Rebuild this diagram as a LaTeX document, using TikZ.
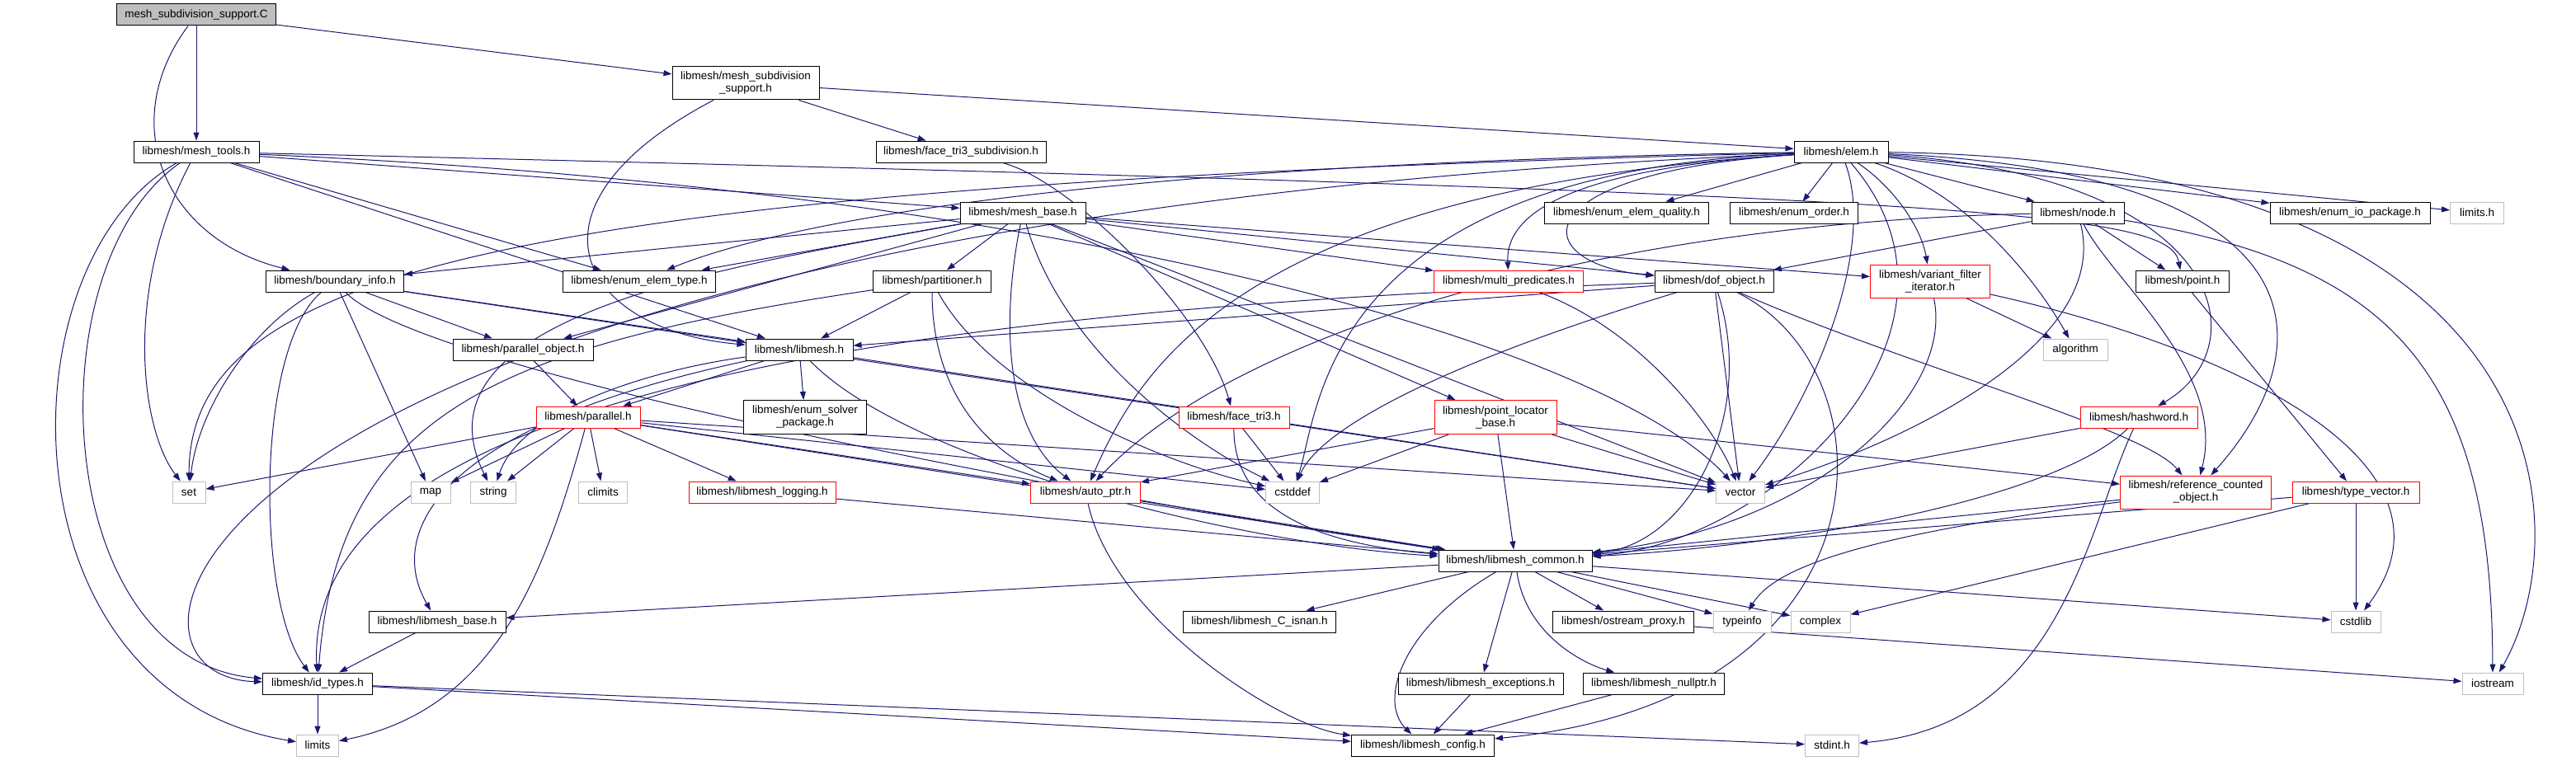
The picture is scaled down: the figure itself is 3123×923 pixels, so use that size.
\documentclass[tikz,border=0pt]{standalone}
\usepackage{fontspec}
\setmainfont{Liberation Sans}
\usetikzlibrary{arrows.meta}
\definecolor{edgeblue}{RGB}{25,25,112}
\definecolor{sysgray}{RGB}{191,191,191}
\newcommand{\fsz}{\fontsize{13.5pt}{15pt}\selectfont}
\pgfdeclarelayer{bg}
\pgfsetlayers{bg,main}

\begin{document}
\begin{tikzpicture}[x=1pt, y=-1pt,
  file/.style={draw=black, fill=white, line width=1pt, minimum height=26pt, inner sep=1pt, align=center, font=\fsz},
  sysfile/.style={file, draw=sysgray},
  trunc/.style={file, draw=red},
  edge/.style={edgeblue, line width=1pt, -{Triangle[length=10pt, width=7pt]}}]
  \useasboundingbox (0,0) rectangle (3123,923);
  \node[file, fill=sysgray, minimum width=193pt] (msc) at (238,18) {mesh\_subdivision\_support.C};
  \node[file, minimum width=178pt, minimum height=40pt] (msh) at (904,101) {libmesh/mesh\_subdivision\\\_support.h};
  \node[file, minimum width=152pt] (tools) at (238,184) {libmesh/mesh\_tools.h};
  \node[file, minimum width=206pt] (ftsub) at (1165,184) {libmesh/face\_tri3\_subdivision.h};
  \node[file, minimum width=114pt] (elem) at (2232,184) {libmesh/elem.h};
  \node[file, minimum width=152pt] (mbase) at (1240,258) {libmesh/mesh\_base.h};
  \node[file, minimum width=199pt] (equal) at (1972,258) {libmesh/enum\_elem\_quality.h};
  \node[file, minimum width=155pt] (eorder) at (2175,258) {libmesh/enum\_order.h};
  \node[file, minimum width=112pt] (nodeh) at (2519,258) {libmesh/node.h};
  \node[file, minimum width=194pt] (eio) at (2849,258) {libmesh/enum\_io\_package.h};
  \node[sysfile, minimum width=65pt] (limh) at (3003,258) {limits.h};
  \node[file, minimum width=167pt] (binfo) at (406,341) {libmesh/boundary\_info.h};
  \node[file, minimum width=185pt] (etype) at (775,341) {libmesh/enum\_elem\_type.h};
  \node[file, minimum width=143pt] (part) at (1130,341) {libmesh/partitioner.h};
  \node[trunc, minimum width=181pt] (mpred) at (1829,341) {libmesh/multi\_predicates.h};
  \node[file, minimum width=144pt] (dof) at (2078,341) {libmesh/dof\_object.h};
  \node[trunc, minimum width=145pt, minimum height=40pt] (vfi) at (2340,341) {libmesh/variant\_filter\\\_iterator.h};
  \node[file, minimum width=113pt] (point) at (2646,341) {libmesh/point.h};
  \node[file, minimum width=170pt] (pobj) at (634,424) {libmesh/parallel\_object.h};
  \node[file, minimum width=130pt] (lm) at (969,424) {libmesh/libmesh.h};
  \node[sysfile, minimum width=78pt] (algo) at (2516,424) {algorithm};
  \node[trunc, minimum width=126pt] (par) at (713,506) {libmesh/parallel.h};
  \node[file, minimum width=149pt, minimum height=41pt] (esolv) at (976,506) {libmesh/enum\_solver\\\_package.h};
  \node[trunc, minimum width=134pt] (ftri) at (1496,506) {libmesh/face\_tri3.h};
  \node[trunc, minimum width=148pt, minimum height=41pt] (plb) at (1813,506) {libmesh/point\_locator\\\_base.h};
  \node[trunc, minimum width=142pt] (hash) at (2593,506) {libmesh/hashword.h};
  \node[trunc, minimum width=183pt, minimum height=40pt] (rco) at (2662,597) {libmesh/reference\_counted\\\_object.h};
  \node[trunc, minimum width=154pt] (tvec) at (2856,597) {libmesh/type\_vector.h};
  \node[sysfile, minimum width=40pt] (seth) at (229,597) {set};
  \node[sysfile, minimum width=48pt] (maph) at (522,597) {map};
  \node[sysfile, minimum width=55pt] (str) at (598,597) {string};
  \node[sysfile, minimum width=59pt] (clim) at (731,597) {climits};
  \node[trunc, minimum width=178pt] (log) at (924,597) {libmesh/libmesh\_logging.h};
  \node[trunc, minimum width=133pt] (aptr) at (1316,597) {libmesh/auto\_ptr.h};
  \node[sysfile, minimum width=65pt] (cstddef) at (1567,597) {cstddef};
  \node[sysfile, minimum width=59pt] (vec) at (2110,597) {vector};
  \node[file, minimum width=186pt] (common) at (1837,680) {libmesh/libmesh\_common.h};
  \node[file, minimum width=166pt] (lmbase) at (530,754) {libmesh/libmesh\_base.h};
  \node[file, minimum width=185pt] (isnan) at (1527,754) {libmesh/libmesh\_C\_isnan.h};
  \node[file, minimum width=171pt] (ostr) at (1968,754) {libmesh/ostream\_proxy.h};
  \node[sysfile, minimum width=70pt] (tinfo) at (2112,754) {typeinfo};
  \node[sysfile, minimum width=72pt] (cplx) at (2207,754) {complex};
  \node[sysfile, minimum width=60pt] (cstdlib) at (2856,754) {cstdlib};
  \node[file, minimum width=133pt] (ids) at (385,829) {libmesh/id\_types.h};
  \node[file, minimum width=200pt] (exc) at (1795,829) {libmesh/libmesh\_exceptions.h};
  \node[file, minimum width=171pt] (nptr) at (2005,829) {libmesh/libmesh\_nullptr.h};
  \node[sysfile, minimum width=74pt] (iostr) at (3022,829) {iostream};
  \node[sysfile, minimum width=51pt] (lim) at (385,904) {limits};
  \node[file, minimum width=173pt] (config) at (1725,904) {libmesh/libmesh\_config.h};
  \node[sysfile, minimum width=65pt] (stdint) at (2221,904) {stdint.h};
  \begin{pgfonlayer}{bg}
  \foreach \a/\b in {msc/tools, msc/msh, msh/elem, msh/ftsub, tools/mbase, tools/lm, tools/etype,
    elem/equal, elem/eorder, elem/nodeh, elem/eio, elem/limh,
    mbase/binfo, mbase/etype, mbase/pobj, mbase/part, mbase/plb, mbase/vec, mbase/mpred, mbase/dof, mbase/vfi,
    binfo/maph, binfo/pobj, binfo/lm, binfo/vec, part/lm, dof/lm, dof/vec, vfi/algo, nodeh/dof, nodeh/point,
    point/tvec, lm/par, lm/esolv, lm/vec, pobj/par, par/seth, par/maph, par/str, par/clim, par/log, par/aptr,
    par/cstddef, par/vec, par/common, log/common, aptr/common, ftri/cstddef, plb/common, plb/aptr, plb/cstddef,
    plb/vec, plb/rco, hash/vec, rco/common, tvec/cstdlib, tvec/cplx, tvec/common, common/lmbase, common/isnan,
    common/ostr, common/tinfo, common/cplx, common/cstdlib, common/exc, ostr/iostr, exc/config, nptr/config,
    lmbase/ids, ids/lim, ids/config, ids/stdint}
    \draw[edge] (\a) -- (\b);
  \foreach \a/\b/\p/\q in {msc/binfo/{140,150}/{200,290}, msh/lm/{620,250}/{700,400},
    tools/ids/{40,320}/{60,800}, tools/lim/{0,320}/{0,840}, tools/seth/{150,350}/{170,520},
    tools/point/{2450,236}/{2630,260}, tools/vec/{1300,230}/{1950,420}, ftsub/ftri/{1300,220}/{1460,380},
    elem/mpred/{1900,205}/{1825,260}, elem/dof/{1840,210}/{1850,320}, elem/vfi/{2300,230}/{2330,280},
    elem/algo/{2400,240}/{2480,360}, elem/hash/{2700,215}/{2740,420}, elem/rco/{2820,210}/{2820,420},
    elem/iostr/{3120,195}/{3125,650}, elem/vec/{2275,300}/{2200,480}, elem/cstddef/{1600,210}/{1600,500},
    elem/aptr/{1500,230}/{1380,450}, elem/etype/{1200,200}/{900,290}, elem/seth/{600,225}/{230,330},
    elem/ids/{200,270}/{90,820}, elem/common/{2420,400}/{2150,660},
    mbase/str/{900,320}/{490,380}, mbase/aptr/{1215,380}/{1215,520}, mbase/cstddef/{1290,430}/{1450,540},
    binfo/seth/{300,400}/{240,500}, binfo/ids/{310,420}/{310,730}, binfo/common/{510,450}/{1300,600},
    part/ids/{600,420}/{410,500}, part/aptr/{1130,480}/{1200,550}, part/cstddef/{1200,470}/{1400,560},
    mpred/vec/{1990,400}/{2080,520}, dof/ids/{900,380}/{370,520}, dof/rco/{2300,440}/{2600,520},
    dof/common/{2130,500}/{2050,660}, dof/config/{2300,450}/{2300,850}, dof/cstddef/{1750,440}/{1600,520},
    vfi/cstdlib/{2700,420}/{3000,560}, vfi/common/{2370,480}/{2200,640},
    nodeh/aptr/{1950,270}/{1500,400}, nodeh/rco/{2560,340}/{2700,450}, nodeh/vec/{2560,420}/{2300,540},
    nodeh/iostr/{2900,320}/{3021,450}, lm/common/{1100,560}/{1500,660}, lm/str/{780,450}/{630,500},
    lm/lmbase/{520,520}/{470,650}, par/lim/{660,700}/{600,860}, aptr/config/{1350,750}/{1550,880},
    ftri/common/{1495,620}/{1600,660}, hash/common/{2500,600}/{2200,660}, hash/stdint/{2530,640}/{2500,880},
    rco/tinfo/{2250,650}/{2150,690}, common/nptr/{1850,770}/{1920,805}, common/config/{1700,760}/{1670,850}}
    \draw[edge] (\a) .. controls (\p) and (\q) .. (\b);
  \end{pgfonlayer}
\end{tikzpicture}
\end{document}
